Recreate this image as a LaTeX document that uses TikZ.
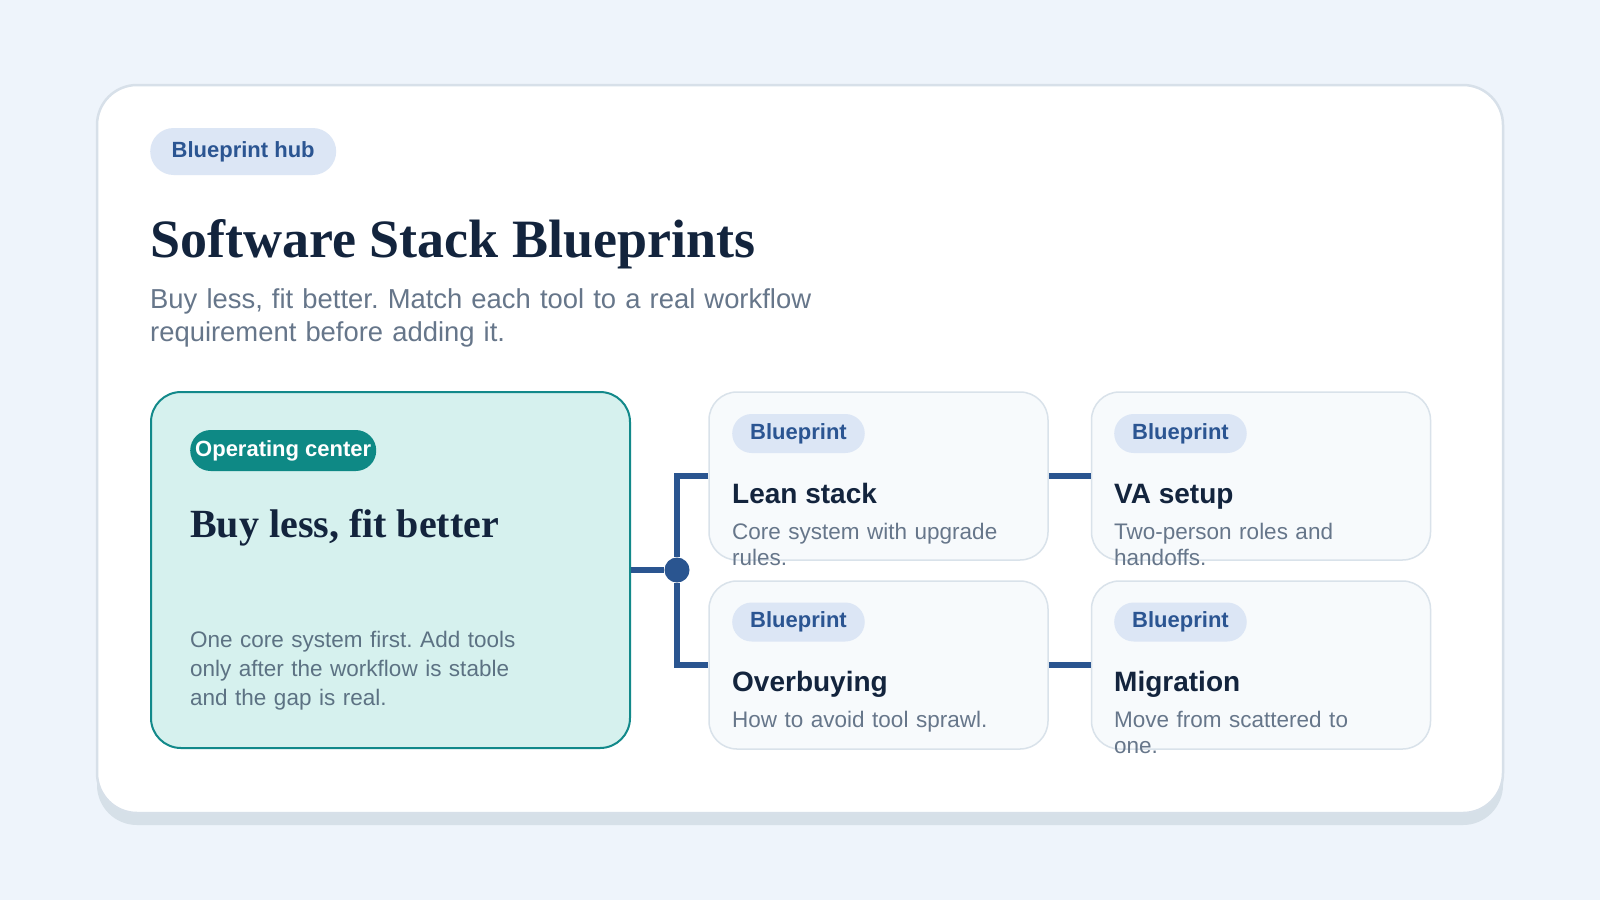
\documentclass[tikz,border=0pt]{standalone}
\usepackage{fontspec}
\setmainfont{Liberation Sans}
\newfontfamily\headserif{Liberation Serif}
\usetikzlibrary{positioning}
\usepackage{xcolor}
\definecolor{pagebg}{HTML}{EEF4FB}
\definecolor{shadowgray}{HTML}{D6E0E8}
\definecolor{frameline}{HTML}{D7E0E9}
\definecolor{ink}{HTML}{13243D}
\definecolor{muted}{HTML}{66768A}
\definecolor{tagfill}{HTML}{DCE6F5}
\definecolor{tagblue}{HTML}{2B5592}
\definecolor{tealfill}{HTML}{D6F1EE}
\definecolor{tealline}{HTML}{12898A}
\definecolor{tealpill}{HTML}{0E8985}
\definecolor{tealtext}{HTML}{5C7283}
\definecolor{linkblue}{HTML}{2A5590}
\definecolor{cardfill}{HTML}{F7FAFC}
\definecolor{cardline}{HTML}{D9E2EA}

\begin{document}
\frenchspacing
\begin{tikzpicture}[x=1pt,y=-1pt]
  \tikzstyle{tag}=[rectangle, rounded corners=19.5pt, fill=tagfill, text=tagblue, font=\bfseries\fontsize{22}{26}\selectfont, minimum height=39pt, inner xsep=18pt, inner ysep=0pt, anchor=west]
  \tikzstyle{blueprint}=[rectangle, rounded corners=28pt, draw=cardline, line width=1.5pt, fill=cardfill, minimum width=339pt, minimum height=168pt]
  \tikzstyle{cardtitle}=[anchor=base west, inner sep=0pt, text=ink, font=\bfseries\fontsize{28}{32}\selectfont]
  \tikzstyle{carddesc}=[anchor=base west, inner sep=0pt, text=muted, text width=320pt, align=left, font=\fontsize{22.5}{26}\selectfont]
  \tikzstyle{link}=[line width=5.5pt, draw=linkblue]
  \useasboundingbox (0,0) rectangle (1600,900);
  \fill[pagebg] (0,0) rectangle (1600,900);
  % outer panel
  \fill[shadowgray, rounded corners=40pt] (97,97) rectangle (1503,825);
  \draw[frameline, line width=2.5pt, fill=white, rounded corners=40pt] (97,85) rectangle (1503,813);

  % header
  \node[tag, minimum height=47pt, rounded corners=23.5pt, inner xsep=21.5pt] (hubtag) at (150,151.5) {Blueprint hub};
  \node[anchor=base west, inner sep=0pt, text=ink, font=\headserif\bfseries\fontsize{54}{60}\selectfont] (title) at (150,257) {Software Stack Blueprints};
  \node[anchor=base west, inner sep=0pt, text=muted, text width=760pt, align=left, font=\fontsize{27.4}{33}\selectfont] (lede) at (150,308) {Buy less, fit better. Match each tool to a real workflow\\requirement before adding it.};

  % operating center
  \node[rectangle, rounded corners=30pt, draw=tealline, line width=2pt, fill=tealfill, minimum width=479pt, minimum height=356pt] (hub) at (390.5,570) {};
  \node[tag, fill=tealpill, text=white, minimum height=41pt, rounded corners=20.5pt, inner xsep=5pt] (optag) at (190,450.5) {Operating center};
  \node[anchor=base west, inner sep=0pt, text=ink, font=\headserif\bfseries\fontsize{40}{46}\selectfont] (hubtitle) at (190,537) {Buy less, fit better};
  \node[anchor=base west, inner sep=0pt, text=tealtext, text width=400pt, align=left, font=\fontsize{22.5}{29}\selectfont] (hubtext) at (190,647) {One core system first. Add tools\\only after the workflow is stable\\and the gap is real.};

  % blueprint cards
  \node[blueprint] (lean) at (878.5,476) {};
  \node[tag] (leantag) at (732,433.5) {Blueprint};
  \node[cardtitle] (leantitle) at (732,503) {Lean stack};
  \node[carddesc] (leandesc) at (732,539) {Core system with upgrade\\rules.};

  \node[blueprint] (over) at (878.5,665) {};
  \node[tag] (overtag) at (732,622) {Blueprint};
  \node[cardtitle] (overtitle) at (732,691) {Overbuying};
  \node[carddesc] (overdesc) at (732,727) {How to avoid tool sprawl.};

  \node[blueprint] (va) at (1261,476) {};
  \node[tag] (vatag) at (1114,433.5) {Blueprint};
  \node[cardtitle] (vatitle) at (1114,503) {VA setup};
  \node[carddesc] (vadesc) at (1114,539) {Two-person roles and\\handoffs.};

  \node[blueprint] (migr) at (1261,665) {};
  \node[tag] (migrtag) at (1114,622) {Blueprint};
  \node[cardtitle] (migrtitle) at (1114,691) {Migration};
  \node[carddesc] (migrdesc) at (1114,727) {Move from scattered to\\one.};

  % connectors
  \node[circle, fill=linkblue, minimum size=25pt, inner sep=0pt] (joint) at (677,570) {};
  \draw[link] (hub.east) -- (joint);
  \draw[link] (lean.west) -| (joint) |- (over.west);
  \draw[link] (lean) -- (va);
  \draw[link] (over) -- (migr);
\end{tikzpicture}
\end{document}
